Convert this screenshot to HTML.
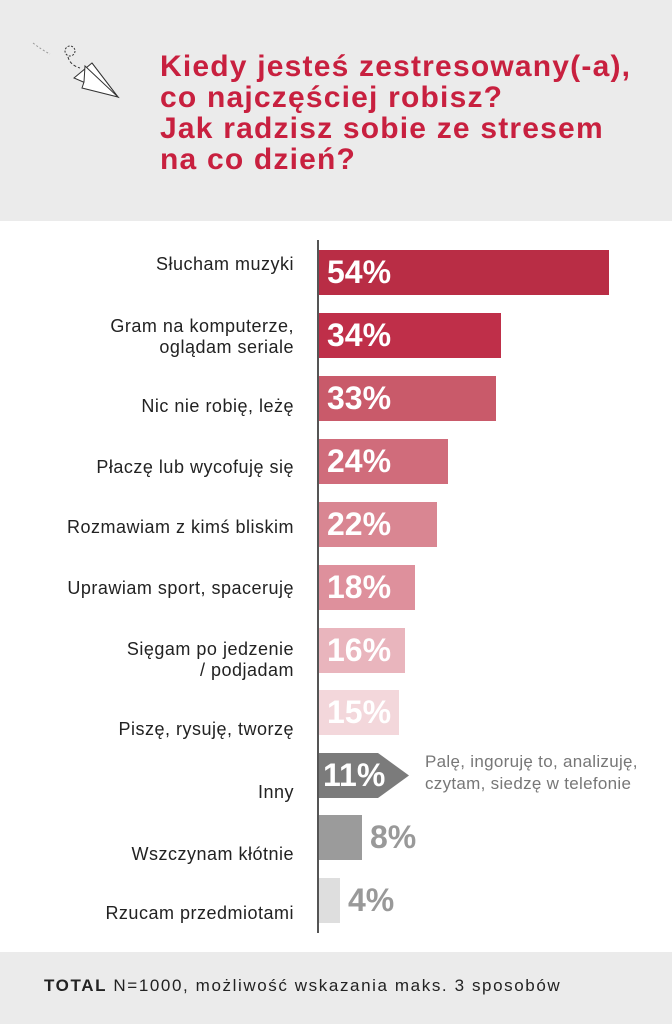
<!DOCTYPE html>
<html><head><meta charset="utf-8"><style>
*{margin:0;padding:0;box-sizing:border-box}
body{width:672px;height:1024px;background:#fff;position:relative;overflow:hidden;font-family:"Liberation Sans","DejaVu Sans",sans-serif}
.hdr{position:absolute;left:0;top:0;width:672px;height:221px;background:#ebebeb}
.title{position:absolute;left:160px;top:51px;color:#c8203f;font-weight:bold;font-size:30px;line-height:31px;letter-spacing:1.2px;white-space:nowrap}
.ftr{position:absolute;left:0;top:952px;width:672px;height:72px;background:#ebebeb;font-size:17px;color:#222;padding:24px 0 0 44px;letter-spacing:1.6px;white-space:nowrap}
.axis{position:absolute;left:317px;top:240px;width:2px;height:693px;background:#555}
.bar{position:absolute;left:319px;height:45px}
.pct{position:absolute;font-weight:bold;font-size:32px;color:#fff;line-height:45px;letter-spacing:0px}
.lab{position:absolute;right:378px;width:300px;text-align:right;font-size:18px;line-height:21px;color:#222;letter-spacing:0.5px}
.note{position:absolute;left:425px;top:751px;font-size:17px;line-height:22px;color:#777;letter-spacing:0.3px;white-space:nowrap}
</style></head><body>
<div class="hdr"></div>
<svg style="position:absolute;left:30px;top:40px" width="90" height="60" viewBox="0 0 90 60">
<path d="M3 3 Q12 10 20 14" stroke="#999" stroke-width="1" fill="none" stroke-dasharray="2 2"/>
<circle cx="40" cy="11" r="5" stroke="#333" fill="none" stroke-dasharray="2 1.5"/>
<path d="M38 17 Q40 25 50 28" stroke="#333" fill="none" stroke-dasharray="3 2"/>
<path d="M62 23 L88 57 L44 38 Z" fill="#fff" stroke="#333" stroke-width="1"/>
<path d="M55 26 L88 57 L52 48 L54 42 Z" fill="#fff" stroke="#333" stroke-width="1"/>
<path d="M62 23 L88 57" stroke="#333"/>
</svg>
<div class="title">Kiedy jesteś zestresowany(-a),<br>co najczęściej robisz?<br>Jak radzisz sobie ze stresem<br>na co dzień?</div>
<div class="axis"></div>

<div class="bar" style="top:250px;width:290px;background:#b92d45"></div><div class="pct" style="left:327px;top:250px">54%</div>
<div class="bar" style="top:313px;width:182px;background:#bf2f49"></div><div class="pct" style="left:327px;top:313px">34%</div>
<div class="bar" style="top:376px;width:177px;background:#c95a6a"></div><div class="pct" style="left:327px;top:376px">33%</div>
<div class="bar" style="top:439px;width:129px;background:#d06c7b"></div><div class="pct" style="left:327px;top:439px">24%</div>
<div class="bar" style="top:502px;width:118px;background:#d98692"></div><div class="pct" style="left:327px;top:502px">22%</div>
<div class="bar" style="top:565px;width:96px;background:#de909c"></div><div class="pct" style="left:327px;top:565px">18%</div>
<div class="bar" style="top:628px;width:86px;background:#e9b5bd"></div><div class="pct" style="left:327px;top:628px">16%</div>
<div class="bar" style="top:690px;width:80px;background:#f3d7db"></div><div class="pct" style="left:327px;top:690px">15%</div>
<svg style="position:absolute;left:319px;top:753px" width="92" height="45"><path d="M0 0 H59 L90 22.5 L59 45 H0 Z" fill="#7b7b7b"/></svg><div class="pct" style="left:323px;top:753px">11%</div>
<div class="bar" style="top:815px;width:43px;background:#9b9b9b"></div><div class="pct" style="left:370px;top:815px;color:#999">8%</div>
<div class="bar" style="top:878px;width:21px;background:#dedede"></div><div class="pct" style="left:348px;top:878px;color:#999">4%</div>

<div class="lab" style="top:254px">Słucham muzyki</div>
<div class="lab" style="top:316px">Gram na komputerze,<br>oglądam seriale</div>
<div class="lab" style="top:396px">Nic nie robię, leżę</div>
<div class="lab" style="top:457px">Płaczę lub wycofuję się</div>
<div class="lab" style="top:517px">Rozmawiam z kimś bliskim</div>
<div class="lab" style="top:578px">Uprawiam sport, spaceruję</div>
<div class="lab" style="top:639px">Sięgam po jedzenie<br>/ podjadam</div>
<div class="lab" style="top:719px">Piszę, rysuję, tworzę</div>
<div class="lab" style="top:782px">Inny</div>
<div class="lab" style="top:844px">Wszczynam kłótnie</div>
<div class="lab" style="top:903px">Rzucam przedmiotami</div>
<div class="note">Palę, ingoruję to, analizuję,<br>czytam, siedzę w telefonie</div>
<div class="ftr"><b>TOTAL</b> N=1000, możliwość wskazania maks. 3 sposobów</div>
</body></html>
